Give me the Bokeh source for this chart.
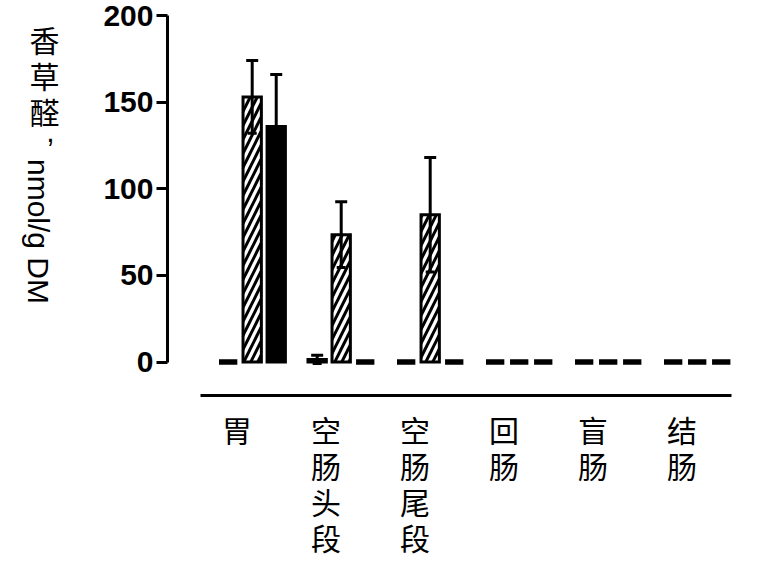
import numpy as np
from bokeh.plotting import figure
from bokeh.layouts import row
from bokeh.models import Range1d, FixedTicker, ColumnDataSource, Whisker, TeeHead
from bokeh.core.properties import value
from bokeh.transform import dodge
from bokeh.embed import file_html
from bokeh.resources import INLINE

# ---------------- data ----------------
categories = ["胃", "空肠头段", "空肠尾段", "回肠", "盲肠", "结肠"]
series1 = [0, 1.5, 0, 0, 0, 0]
series1_sd = [0, 2.4, 0, 0, 0, 0]
series2 = [153, 73.5, 85, 0, 0, 0]
series2_sd = [21, 19, 33, 0, 0, 0]
series3 = [136, 0, 0, 0, 0, 0]
series3_sd = [30, 0, 0, 0, 0, 0]
y_ticks = [0, 50, 100, 150, 200]
y_label_cn = "香草醛"
y_label_unit = "nmol/g DM"

# ---------------- layout (pixels) ----------------
W_TOTAL, H = 757, 571
W_T = 70                      # width of the y-title strip
W = W_TOTAL - W_T
FRAME_L, FRAME_R, FRAME_T, FRAME_B = 167, 745, 15, 395
B_LEFT, B_RIGHT, B_TOP, B_BOTTOM = FRAME_L - W_T, W_TOTAL - FRAME_R, FRAME_T, H - FRAME_B
PX_CAT = 89.0
PX_UNIT = 346.5 / 200
frame_w = FRAME_R - FRAME_L
frame_h = FRAME_B - FRAME_T
x_start = (FRAME_L - 251.7) / PX_CAT
x_end = x_start + frame_w / PX_CAT
y_end = 200
y_start = y_end - frame_h / PX_UNIT

CJK = "Noto Sans CJK SC"
LAT = "Liberation Sans"

# ---------------- y title strip (frame aligned with the chart's frame) ----------------
t = figure(width=W_T, height=H, x_range=Range1d(0, W_T), y_range=Range1d(FRAME_B, FRAME_T),
           output_backend="svg", toolbar_location=None,
           x_axis_location=None, y_axis_location=None,
           min_border_left=0, min_border_right=0, min_border_top=B_TOP, min_border_bottom=B_BOTTOM)
t.grid.visible = False
t.outline_line_color = None
t.background_fill_color = "white"
t.border_fill_color = "white"
t.text(x=[44], y=[16], text=["\n".join(y_label_cn)], text_align="center", text_baseline="top",
       text_font=value(CJK), text_font_size="30px", text_line_height=0.82,
       text_color="black")
t.text(x=[50], y=[131], text=[","], text_align="center", text_baseline="alphabetic",
       text_font=value(LAT), text_font_size="30px", text_color="black")
t.text(x=[38], y=[231], text=[y_label_unit], angle=-np.pi / 2, text_align="center",
       text_baseline="middle", text_font=value(LAT), text_font_size="30px", text_color="black")

# ---------------- main chart ----------------
p = figure(width=W, height=H, x_range=Range1d(x_start, x_end), y_range=Range1d(y_start, y_end),
           output_backend="svg", toolbar_location=None,
           min_border_left=B_LEFT, min_border_right=B_RIGHT,
           min_border_top=B_TOP, min_border_bottom=B_BOTTOM)
p.grid.visible = False
p.outline_line_color = None
p.background_fill_color = "white"
p.border_fill_color = "white"

idx = np.arange(len(categories), dtype=float)
offsets = [-0.27, 0.0, 0.27]
bar_w = 0.206

series = [
    (np.array(series1, float), np.array(series1_sd, float), dict(fill_color="white")),
    (np.array(series2, float), np.array(series2_sd, float),
     dict(fill_color="white", hatch_pattern="/", hatch_color="black", hatch_weight=3, hatch_scale=14)),
    (np.array(series3, float), np.array(series3_sd, float), dict(fill_color="black")),
]

for (vals, sds, style), off in zip(series, offsets):
    src = ColumnDataSource(dict(idx=idx, top=vals, lw=np.where(vals == 0, 5.5, 3.0)))
    p.vbar(x=dodge("idx", off), top="top", bottom=0, width=bar_w, source=src,
           line_color="black", line_width="lw", line_join="miter", **style)
    m = sds > 0
    if m.any():
        wsrc = ColumnDataSource(dict(base=idx[m] + off, upper=vals[m] + sds[m], lower=vals[m] - sds[m]))
        w = Whisker(base="base", upper="upper", lower="lower", source=wsrc,
                    line_color="black", line_width=3,
                    upper_head=TeeHead(size=12, line_width=3, line_color="black"),
                    lower_head=TeeHead(size=9, line_width=3, line_color="black"),
                    level="overlay")
        p.add_layout(w)

# y axis
ya = p.yaxis[0]
ya.ticker = FixedTicker(ticks=y_ticks)
ya.bounds = (0, 200)
ya.axis_line_width = 3
ya.axis_line_color = "black"
ya.major_tick_line_width = 3
ya.major_tick_line_color = "black"
ya.major_tick_out = 11
ya.major_tick_in = 0
ya.minor_tick_line_color = None
ya.major_label_text_font = LAT
ya.major_label_text_font_size = "30px"
ya.major_label_text_font_style = "bold"
ya.major_label_text_color = "black"
ya.major_label_standoff = 3

# x axis
label_shift = -0.17
tick_pos = [float(i + label_shift) for i in range(len(categories))]
xa = p.xaxis[0]
xa.ticker = FixedTicker(ticks=tick_pos)
xa.major_label_overrides = {tp: "\n".join(c) for tp, c in zip(tick_pos, categories)}
xa.bounds = (x_start + (200 - FRAME_L) / PX_CAT, x_start + (731 - FRAME_L) / PX_CAT)
xa.axis_line_width = 3
xa.axis_line_color = "black"
xa.major_tick_line_color = None
xa.major_tick_out = 0
xa.major_tick_in = 0
xa.minor_tick_line_color = None
xa.major_label_text_font = CJK
xa.major_label_text_font_size = "30px"
xa.major_label_text_line_height = 0.825
xa.major_label_text_color = "black"
xa.major_label_standoff = 11

layout = row(t, p)
open("out.html", "w").write(file_html(layout, INLINE))
